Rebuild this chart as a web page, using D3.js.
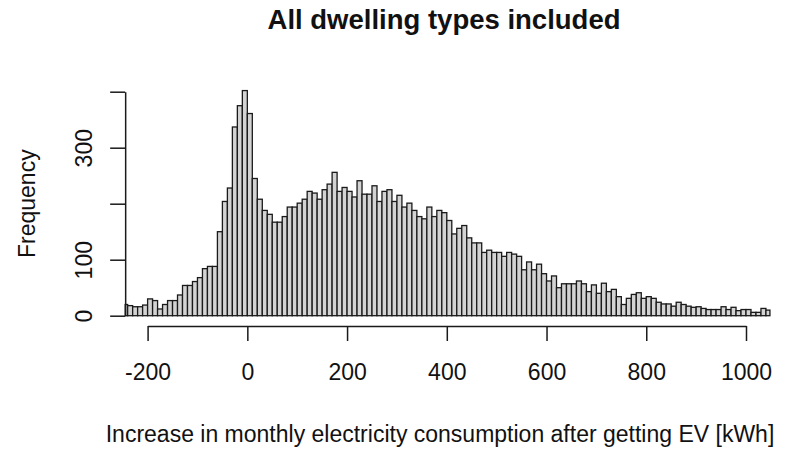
<!DOCTYPE html>
<html>
<head>
<meta charset="utf-8">
<style>
body { margin: 0; background: #fff; }
svg { display: block; font-family: 'Liberation Sans', Arial, sans-serif; }
</style>
</head>
<body>
<svg width="785" height="449"></svg>
<script src="https://d3js.org/d3.v7.min.js"></script>
<script>

// histogram bins: 10 kWh wide, starting at -250
const binStart = -250;
const binWidth = 10;
const counts = [
	20, 18, 16, 16, 19, 30, 27, 12, 20, 27,
	27, 37, 54, 54, 61, 68, 84, 88, 88, 150,
	204, 228, 337, 375, 402, 361, 245, 208, 188, 181,
	167, 167, 177, 194, 194, 201, 208, 222, 219, 208,
	225, 235, 256, 222, 229, 222, 212, 241, 217, 217,
	232, 204, 222, 225, 204, 215, 194, 201, 188, 177,
	173, 194, 177, 188, 184, 170, 146, 156, 161, 139,
	130, 130, 113, 117, 113, 113, 106, 113, 110, 106,
	82, 96, 82, 92, 75, 62, 71, 50, 57, 57,
	57, 62, 57, 43, 55, 40, 58, 43, 47, 34,
	20, 31, 38, 41, 31, 34, 31, 24, 21, 21,
	17, 24, 20, 17, 15, 16, 13, 11, 11, 11,
	16, 11, 15, 9, 11, 11, 6, 6, 13, 10
];
const xTicks = [-200, 0, 200, 400, 600, 800, 1000];
const xTickLabels = ['-200', '0', '200', '400', '600', '800', '1000'];
const yTicks = [0, 100, 200, 300, 400];
const yTickLabels = ['0', '100', '', '300', ''];
const title = 'All dwelling types included';
const xTitle = 'Increase in monthly electricity consumption after getting EV [kWh]';
const yTitle = 'Frequency';

const svg = d3.select('svg');

// plot region spans a bit beyond the tick range, like R's 4% padding
const plotMin = -245, plotMax = 1048;

const x = d3.scaleLinear().domain([-200, 1000]).range([147.6, 746]);
const y = d3.scaleLinear().domain([0, 400]).range([315.7, 91.7]);

const bins = counts.map((c, i) => ({
	x0: Math.max(binStart + i * binWidth, plotMin),
	x1: Math.min(binStart + (i + 1) * binWidth, plotMax),
	count: c
}));

svg.append('g')
	.selectAll('rect')
	.data(bins)
	.enter().append('rect')
	.attr('x', (d) => x(d.x0))
	.attr('y', (d) => y(d.count))
	.attr('width', (d) => x(d.x1) - x(d.x0))
	.attr('height', (d) => y(0) - y(d.count))
	.attr('fill', '#d3d3d3')
	.attr('stroke', '#1a1a1a')
	.attr('stroke-width', 1.3);

// x axis
const xAxis = svg.append('g')
	.attr('transform', 'translate(0,326)')
	.call(d3.axisBottom(x).tickValues(xTicks).tickSize(15).tickSizeOuter(0).tickFormat((d, i) => xTickLabels[i]));

// y axis
const yAxis = svg.append('g')
	.attr('transform', `translate(${x(plotMin)},0)`)
	.call(d3.axisLeft(y).tickValues(yTicks).tickSize(15).tickSizeOuter(0).tickFormat((d, i) => yTickLabels[i]));

[xAxis, yAxis].forEach((g) => {
	g.attr('font-family', null).attr('font-size', null);
	g.select('.domain').attr('stroke', '#1a1a1a').attr('stroke-width', 1.5);
	g.selectAll('.tick line').attr('stroke', '#1a1a1a').attr('stroke-width', 1.5);
	g.selectAll('.tick text')
		.attr('fill', '#111')
		.style('font-size', '23px');
});

xAxis.selectAll('.tick text')
	.attr('y', 54)
	.attr('dy', null);

yAxis.selectAll('.tick text')
	.attr('x', null)
	.attr('dy', null)
	.attr('text-anchor', 'middle')
	.attr('transform', 'translate(-33,0) rotate(-90)');

svg.append('text')
	.attr('x', 444)
	.attr('y', 28.5)
	.attr('text-anchor', 'middle')
	.style('font-size', '27.5px')
	.style('font-weight', 'bold')
	.attr('fill', '#111')
	.text(title);

svg.append('text')
	.attr('x', 440)
	.attr('y', 442)
	.attr('text-anchor', 'middle')
	.style('font-size', '23px')
	.attr('fill', '#111')
	.text(xTitle);

svg.append('text')
	.attr('transform', `translate(35,${(y(0) + y(400)) / 2}) rotate(-90)`)
	.attr('text-anchor', 'middle')
	.style('font-size', '23px')
	.attr('fill', '#111')
	.text(yTitle);

</script>
</body>
</html>
